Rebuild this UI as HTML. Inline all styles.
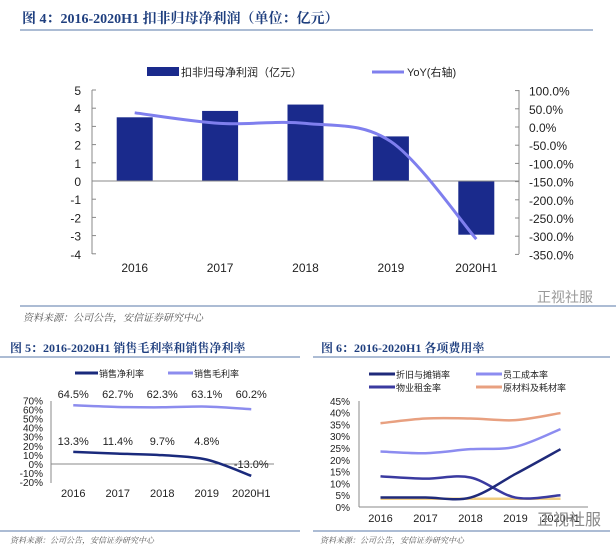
<!DOCTYPE html>
<html><head><meta charset="utf-8">
<style>
body{margin:0;background:#fff;width:616px;height:554px;overflow:hidden;font-family:"Liberation Sans","Noto Sans CJK SC",sans-serif;}
svg{position:absolute;left:0;top:0;}
</style></head>
<body>
<svg id="c" width="616" height="554"></svg>
<script>
// Figure 4 data
const f4Cats=["2016","2017","2018","2019","2020H1"];
const f4Profit=[3.5,3.85,4.2,2.45,-2.95];
const f4Yoy=[39,10,10,-40,-308];
const f4LeftTicks=[5,4,3,2,1,0,-1,-2,-3,-4];
const f4RightTicks=[100,50,0,-50,-100,-150,-200,-250,-300,-350];
// Figure 5 data
const f5Cats=["2016","2017","2018","2019","2020H1"];
const f5Gross=[64.5,62.7,62.3,63.1,60.2];
const f5Net=[13.3,11.4,9.7,4.8,-13.0];
const f5Ticks=[70,60,50,40,30,20,10,0,-10,-20];
// Figure 6 data
const f6Cats=["2016","2017","2018","2019","2020H1"];
const f6Dep=[4,4,4,14,24.5];
const f6Staff=[23.5,22.8,24.5,25.5,33];
const f6Rent=[13,12,12.5,4,5];
const f6Mat=[35.5,37.5,37.5,36.8,39.8];
const f6Other=[3.5,3.5,3.5,3.5,3.5];
const f6Ticks=[45,40,35,30,25,20,15,10,5,0];

const svg=document.getElementById('c');
const NS='http://www.w3.org/2000/svg';
function el(t,a,txt){const e=document.createElementNS(NS,t);for(const k in a)e.setAttribute(k,a[k]);if(txt!==undefined)e.textContent=txt;svg.appendChild(e);return e;}
function smooth(pts){let d=`M${pts[0][0]},${pts[0][1]}`;for(let i=0;i<pts.length-1;i++){const p0=pts[i-1]||pts[i],p1=pts[i],p2=pts[i+1],p3=pts[i+2]||p2;const c1=[p1[0]+(p2[0]-p0[0])/6,p1[1]+(p2[1]-p0[1])/6],c2=[p2[0]-(p3[0]-p1[0])/6,p2[1]-(p3[1]-p1[1])/6];d+=` C${c1[0]},${c1[1]} ${c2[0]},${c2[1]} ${p2[0]},${p2[1]}`;}return d;}
const SER='"Liberation Serif","Noto Serif CJK SC",serif';
function title(x,y,t,n,fs){const e=el('text',{x,y,'font-size':fs,'font-weight':'bold',fill:'#1f3f7f','font-family':SER},t);}
function hline(x1,x2,y,n,c){const e=el('line',{x1,x2,y1:y,y2:y,stroke:c||'#5a7aa8','stroke-width':1});}
function txt(x,y,t,n,o){const a=Object.assign({x,y,'font-size':11,fill:'#222'},o||{});const e=el('text',a,t);return e;}

// ===== Figure 4 =====
title(22,23,"图 4：2016-2020H1 扣非归母净利润（单位：亿元）","fig4-title",14);
hline(20,593,30,"fig4-title-rule");
const x4=i=>92+85.4*(i+0.5), yL=v=>181-18.2*v, yR=v=>127-18.2*v/50;
let e=el('rect',{x:147,y:67,width:32,height:9,fill:'#1a2a8c'});

txt(181,76,"扣非归母净利润（亿元）","legend-bar-label",{'font-size':11});
e=el('line',{x1:372,x2:404,y1:72,y2:72,stroke:'#7f7fee','stroke-width':3});

txt(407,76,"YoY(右轴)","legend-line-label",{'font-size':11});
f4LeftTicks.forEach(v=>{txt(81,yL(v)+5,String(v),'left-tick-label',{'text-anchor':'end','font-size':12});
 e=el('line',{x1:92,x2:96,y1:yL(v),y2:yL(v),stroke:'#888'});});
f4RightTicks.forEach(v=>{txt(529,yR(v)+5,v.toFixed(1)+"%",'right-tick-label',{'font-size':12});
 e=el('line',{x1:515,x2:519,y1:yR(v),y2:yR(v),stroke:'#888'});});
e=el('line',{x1:92,x2:92,y1:90,y2:254,stroke:'#888'});
e=el('line',{x1:519,x2:519,y1:90,y2:254,stroke:'#888'});
f4Profit.forEach((v,i)=>{const y=Math.min(yL(v),yL(0)),h=Math.abs(yL(v)-yL(0));
 e=el('rect',{x:x4(i)-18,y,width:36,height:h,fill:'#1a2a8c'});});
e=el('line',{x1:92,x2:519,y1:yL(0),y2:yL(0),stroke:'#888'});
f4Cats.forEach((c,i)=>{txt(x4(i),272,c,'x-tick-label',{'text-anchor':'middle','font-size':12});});
e=el('path',{d:smooth(f4Yoy.map((v,i)=>[x4(i),yR(v)])),fill:'none',stroke:'#7f7fee','stroke-width':3});

hline(20,616,306,"fig4-source-rule");
txt(23,321,"资料来源：公司公告，安信证券研究中心","fig4-source",{'font-size':10,fill:'#555','font-style':'italic','font-family':SER});

// ===== Figure 5 =====
title(10,352,"图 5：2016-2020H1 销售毛利率和销售净利率","fig5-title",12);
hline(0,300,357,"fig5-title-rule");
const x5=i=>51+44.5*(i+0.5), y5=v=>464-0.91*v;
e=el('line',{x1:75,x2:98,y1:373,y2:373,stroke:'#1a2a7c','stroke-width':3});
txt(99,377,"销售净利率","legend-net-label",{'font-size':9});
e=el('line',{x1:168,x2:193,y1:373,y2:373,stroke:'#8c8cee','stroke-width':3});
txt(194,377,"销售毛利率","legend-gross-label",{'font-size':9});
f5Ticks.forEach(v=>{txt(43,y5(v)+4,v+"%",'fig5-tick-label',{'text-anchor':'end','font-size':10});});
e=el('line',{x1:51,x2:51,y1:401,y2:483,stroke:'#888'});
e=el('line',{x1:51,x2:274,y1:y5(0),y2:y5(0),stroke:'#888'});
e=el('path',{d:smooth(f5Gross.map((v,i)=>[x5(i),y5(v)])),fill:'none',stroke:'#8c8cee','stroke-width':2.5});
e=el('path',{d:smooth(f5Net.map((v,i)=>[x5(i),y5(v)])),fill:'none',stroke:'#1a2a7c','stroke-width':2.5});
f5Gross.forEach((v,i)=>txt(x5(i),398,v.toFixed(1)+"%",'gross-value-label',{'text-anchor':'middle','font-size':11}));
f5Net.forEach((v,i)=>txt(x5(i),i==4?468:445,v.toFixed(1)+"%",'net-value-label',{'text-anchor':'middle','font-size':11}));
f5Cats.forEach((c,i)=>txt(x5(i),497,c,'fig5-x-label',{'text-anchor':'middle','font-size':11}));
hline(0,300,531,"fig5-source-rule");
txt(10,543,"资料来源：公司公告，安信证券研究中心","fig5-source",{'font-size':8,fill:'#555','font-style':'italic','font-family':SER});

// ===== Figure 6 =====
title(321,352,"图 6：2016-2020H1 各项费用率","fig6-title",12);
hline(313,610,357,"fig6-title-rule");
const x6=i=>359+45*(i+0.5)-1, y6=v=>507-2.36*v;
const leg=[[369,374,'#1f2a7a',"折旧与摊销率"],[476,374,'#8c8cf0',"员工成本率"],[369,387,'#3a3aa0',"物业租金率"],[476,387,'#e8a080',"原材料及耗材率"]];
leg.forEach(l=>{e=el('line',{x1:l[0],x2:l[0]+26,y1:l[1],y2:l[1],stroke:l[2],'stroke-width':3});
 txt(l[0]+27,l[1]+4,l[3],'fig6-legend-label',{'font-size':9});});
f6Ticks.forEach(v=>txt(350,y6(v)+4,v+"%",'fig6-tick-label',{'text-anchor':'end','font-size':10}));
e=el('line',{x1:359,x2:359,y1:401,y2:507,stroke:'#888'});
e=el('line',{x1:359,x2:588,y1:507,y2:507,stroke:'#888'});
[[f6Other,'#f0cc80','other-rate-line'],[f6Mat,'#e8a080','material-rate-line'],[f6Staff,'#8c8cf0','staff-rate-line'],[f6Rent,'#3a3aa0','rent-rate-line'],[f6Dep,'#1f2a7a','depreciation-rate-line']].forEach(s=>{
 e=el('path',{d:smooth(s[0].map((v,i)=>[x6(i),y6(v)])),fill:'none',stroke:s[1],'stroke-width':2.5});});
f6Cats.forEach((c,i)=>txt(x6(i),522,c,'fig6-x-label',{'text-anchor':'middle','font-size':11}));
hline(313,610,531,"fig6-source-rule");
txt(320,543,"资料来源：公司公告，安信证券研究中心","fig6-source",{'font-size':8,fill:'#555','font-style':'italic','font-family':SER});

// watermarks
txt(537,302,"正视社服","watermark-top",{'font-size':14,fill:'#999'});
txt(537,525,"正视社服","watermark-bottom",{'font-size':16,fill:'#888'});
</script>
</body></html>
